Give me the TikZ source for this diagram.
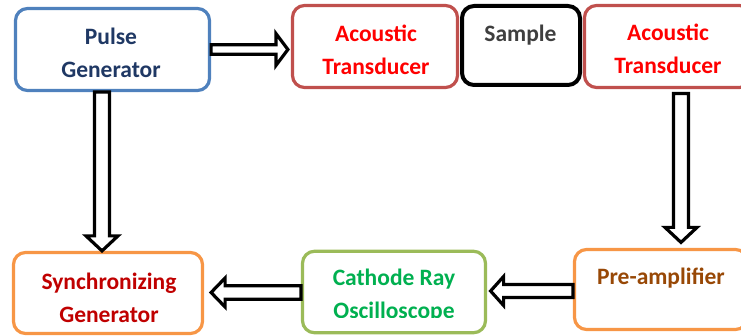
\documentclass[tikz,border=0pt]{standalone}
\usepackage{fontspec}
\setmainfont{Carlito}
\usetikzlibrary{calc}

\definecolor{pgblue}{HTML}{4F81BD}
\definecolor{pgtext}{HTML}{1F3864}
\definecolor{atred}{HTML}{C0504D}
\definecolor{attext}{HTML}{FF0000}
\definecolor{smptext}{HTML}{3F3F3F}
\definecolor{boxorange}{HTML}{F79646}
\definecolor{sgtext}{HTML}{C00000}
\definecolor{crogreen}{HTML}{9BBB59}
\definecolor{crotext}{HTML}{00B050}
\definecolor{patext}{HTML}{984806}

\tikzset{
  box/.style={draw, rounded corners=12pt, line width=3.2pt, fill=white, inner sep=0pt},
  lbl/.style={font=\fontsize{23.5}{33}\selectfont\bfseries, align=center, anchor=base, inner sep=0pt},
  arrowline/.style={draw=black, fill=white, line width=3.2pt, line join=miter},
}

% hollow block arrow: start, tip, half shaft width, half head width, head length
\newcommand{\blockarrow}[5]{%
  \coordinate (ba-s) at (#1);
  \coordinate (ba-e) at (#2);
  \coordinate (ba-h) at ($(ba-e)!#5!(ba-s)$);
  \draw[arrowline]
    ($(ba-s)!#3!90:(ba-e)$) -- ($(ba-h)!#3!-90:(ba-s)$) -- ($(ba-h)!#4!-90:(ba-s)$)
    -- (ba-e) -- ($(ba-h)!#4!90:(ba-s)$) -- ($(ba-h)!#3!90:(ba-s)$)
    -- ($(ba-s)!#3!-90:(ba-e)$) -- cycle;}

\begin{document}
\begin{tikzpicture}[x=1pt,y=-1pt]
\useasboundingbox (0,0) rectangle (741,336);
\clip (0,0) rectangle (741,336);

% blocks
\node[box, draw=pgblue, minimum width=194pt, minimum height=82pt] (pg) at (112.5,49.5) {};
\node[box, draw=atred, minimum width=165pt, minimum height=82pt] (at1) at (375,46.5) {};
\node[box, draw=atred, minimum width=167pt, minimum height=82pt] (at2) at (668,46.5) {};
\node[box, draw=black, line width=4pt, minimum width=118pt, minimum height=79pt] (smp) at (521,45.5) {};
\node[box, draw=boxorange, minimum width=189pt, minimum height=81pt] (sg) at (108,293) {};
\node[box, draw=crogreen, minimum width=183pt, minimum height=81.5pt] (cro) at (394,292) {};
\node[box, draw=boxorange, minimum width=173pt, minimum height=80pt] (pa) at (661,289.5) {};

% labels (base anchor of a two-line label sits on its second line)
\node[lbl, text=pgtext] (pg-t) at ($(pg.north)+(-1.5,70.5)$) {Pulse\\Generator};
\node[lbl, text=attext] (at1-t) at ($(at1.north)+(1,71)$) {Acoustic\\Transducer};
\node[lbl, text=smptext] (smp-t) at ($(smp.north)+(-0.5,37.5)$) {Sample};
\node[lbl, text=attext] (at2-t) at ($(at2.north)+(0,70)$) {Acoustic\\Transducer};
\node[lbl, text=sgtext] (sg-t) at ($(sg.north)+(1,71.5)$) {Synchronizing\\Generator};
\begin{scope}
  \clip (300,240) rectangle (490,318);
  \node[lbl, text=crotext] (cro-t) at ($(cro.north)+(0,68.75)$) {Cathode Ray\\Oscilloscope};
\end{scope}
\node[lbl, text=patext] (pa-t) at ($(pa.north)+(0,36.5)$) {Pre-amplifier};

% connectors
\blockarrow{pg.east}{$(at1.west |- pg.east)+(-3,0)$}{4.7pt}{16pt}{12pt}
\blockarrow{$(pg.south)+(-10.5,0)$}{$(sg.north)+(-6,0)$}{7.5pt}{16pt}{15pt}
\blockarrow{$(at2.south)+(13,4.5)$}{$(pa.north)+(20,-5.5)$}{7.5pt}{16pt}{15pt}
\blockarrow{$(pa.west)+(0,1.5)$}{$(cro.east)+(3.5,-1)$}{6.5pt}{14.5pt}{13pt}
\blockarrow{$(cro.west)+(0,0.5)$}{$(sg.east)+(7,-0.5)$}{6.8pt}{14.5pt}{14pt}
\end{tikzpicture}
\end{document}
